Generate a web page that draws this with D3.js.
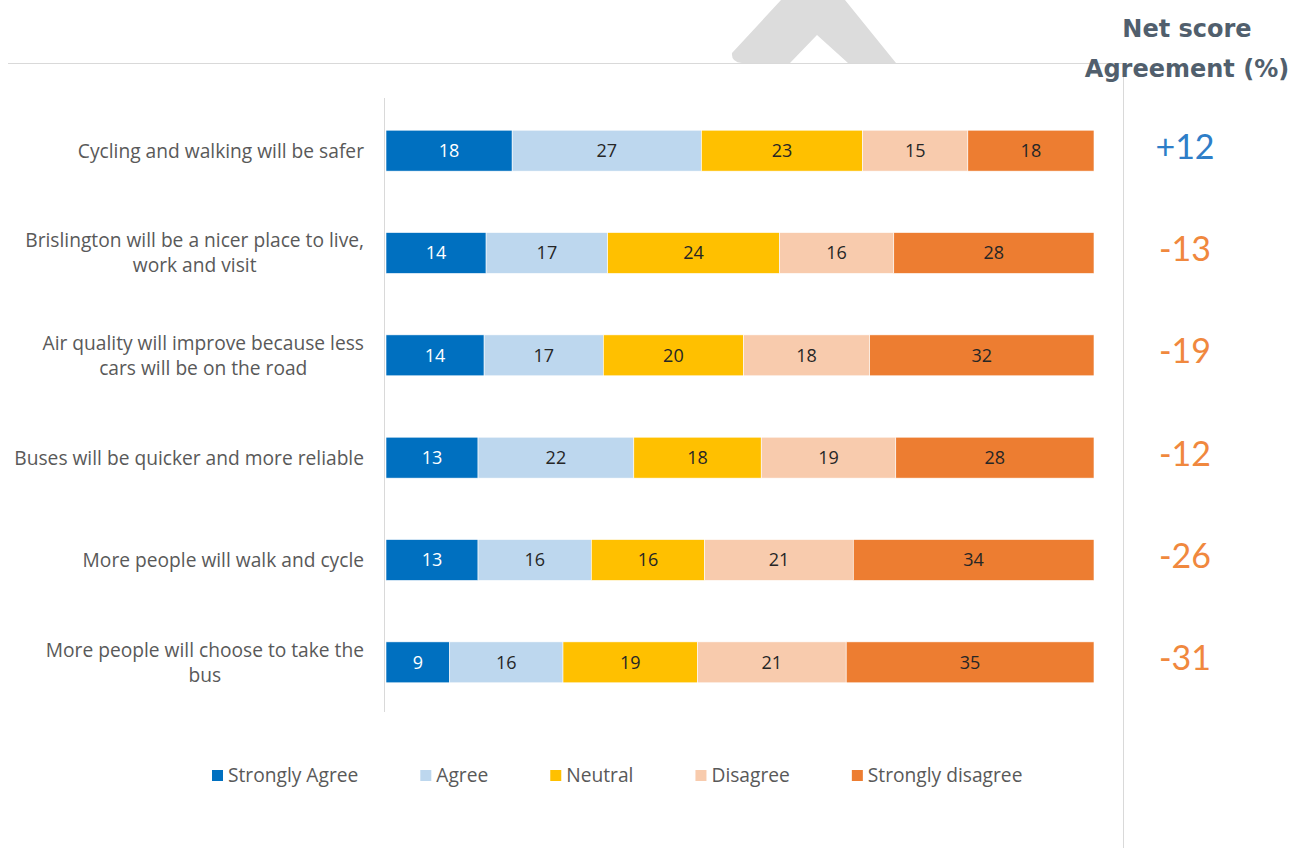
<!DOCTYPE html>
<html>
<head>
<meta charset="utf-8">
<script src="https://cdn.jsdelivr.net/npm/d3@7"></script>
<style>
  html, body { margin: 0; padding: 0; background: #fff; }
  svg { display: block; }
</style>
</head>
<body>
<svg id="chart" width="1297" height="848"></svg>
<script>
// Statements, in display order (lines split where the label wraps)
const statements = [
  ["Cycling and walking will be safer"],
  ["Brislington will be a nicer place to live,", "work and visit"],
  ["Air quality will improve because less", "cars will be on the road"],
  ["Buses will be quicker and more reliable"],
  ["More people will walk and cycle"],
  ["More people will choose to take the", "bus"]
];

// Response categories
const responses = ["Strongly Agree", "Agree", "Neutral", "Disagree", "Strongly disagree"];

// Percentages per response, one value per statement
const stronglyAgree    = [18, 14, 14, 13, 13, 9];
const agree            = [27, 17, 17, 22, 16, 16];
const neutral          = [23, 24, 20, 18, 16, 19];
const disagree         = [15, 16, 18, 19, 21, 21];
const stronglyDisagree = [18, 28, 32, 28, 34, 35];

// Net agreement score per statement
const netScores = [12, -13, -19, -12, -26, -31];

const colors = ["#0070c0", "#bdd7ee", "#ffc000", "#f8cbad", "#ed7d31"];
const labelColors = ["#ffffff", "#262626", "#262626", "#262626", "#262626"];

const seriesValues = [stronglyAgree, agree, neutral, disagree, stronglyDisagree];
const rows = statements.map((s, i) => {
  const r = { id: i };
  responses.forEach((k, j) => r[k] = seriesValues[j][i]);
  return r;
});

const svg = d3.select("#chart");
const font = "'Open Sans', 'Noto Sans', sans-serif";
const numFont = "Lato, sans-serif";

// Background mark above the divider line
svg.append("path")
  .attr("d", "M732,53 L781,0 L845,0 L896,63 L848,63 L817,35 L790,63 L742,63 Q731,62 732,53 Z")
  .attr("fill", "#dcdcdc");

// Top divider
svg.append("line")
  .attr("x1", 8).attr("x2", 1122).attr("y1", 63.5).attr("y2", 63.5)
  .attr("stroke", "#d9d9d9").attr("stroke-width", 1);

// Net score column divider
svg.append("line")
  .attr("x1", 1123.5).attr("x2", 1123.5).attr("y1", 75).attr("y2", 848)
  .attr("stroke", "#d9d9d9").attr("stroke-width", 1);

const x = d3.scaleLinear().domain([0, 1]).range([386, 1094]);
const y = d3.scaleBand().domain(rows.map(r => r.id)).range([99.5, 713.5])
  .paddingInner(0.6).paddingOuter(0.3);

const stack = d3.stack().keys(responses).offset(d3.stackOffsetExpand);
const layers = stack(rows);

// Category axis line
svg.append("line")
  .attr("x1", 384.5).attr("x2", 384.5).attr("y1", 98).attr("y2", 712)
  .attr("stroke", "#d9d9d9").attr("stroke-width", 1);

const layerG = svg.append("g").selectAll("g")
  .data(layers).join("g")
  .attr("fill", (d, i) => colors[i]);

layerG.selectAll("rect")
  .data(d => d)
  .join("rect")
  .attr("x", d => x(d[0]))
  .attr("y", d => y(d.data.id))
  .attr("width", d => x(d[1]) - x(d[0]))
  .attr("height", y.bandwidth())
  .attr("stroke", "#ffffff")
  .attr("stroke-width", 0.6);

// Value labels inside each segment
layers.forEach((layer, i) => {
  svg.append("g").selectAll("text")
    .data(layer)
    .join("text")
    .attr("x", d => (x(d[0]) + x(d[1])) / 2)
    .attr("y", d => y(d.data.id) + y.bandwidth() / 2)
    .attr("dy", "0.36em")
    .attr("text-anchor", "middle")
    .attr("font-family", font)
    .attr("font-size", 18)
    .attr("fill", labelColors[i])
    .text(d => d.data[layer.key]);
});

// Category labels (wrapped lines centred within the block, block right-aligned)
const labelRight = 364;
const lineGap = 25;
statements.forEach((lines, i) => {
  const cy = y(i) + y.bandwidth() / 2;
  const g = svg.append("g");
  const texts = lines.map((ln, k) => g.append("text")
    .attr("y", cy + (k - (lines.length - 1) / 2) * lineGap)
    .attr("dy", "0.36em")
    .attr("font-family", font)
    .attr("font-size", 19.2)
    .attr("fill", "#595959")
    .attr("text-anchor", "middle")
    .text(ln));
  const w = d3.max(texts, t => t.node().getComputedTextLength());
  texts.forEach(t => t.attr("x", labelRight - w / 2));
});

// Net score header
const header = svg.append("text")
  .attr("x", 1187)
  .attr("text-anchor", "middle")
  .attr("font-family", "'DejaVu Sans', Verdana, sans-serif")
  .attr("font-weight", "bold")
  .attr("font-size", 24)
  .attr("fill", "#515f6d");
header.append("tspan").attr("x", 1187).attr("y", 37).text("Net score");
header.append("tspan").attr("x", 1187).attr("y", 77).text("Agreement (%)");

// Net score values
svg.append("g").selectAll("text")
  .data(netScores)
  .join("text")
  .attr("x", 1185)
  .attr("y", (d, i) => y(i) + y.bandwidth() / 2 - 4)
  .attr("dy", "0.35em")
  .attr("text-anchor", "middle")
  .attr("font-family", numFont)
  .attr("font-size", 34)
  .attr("fill", d => d >= 0 ? "#2e7ec8" : "#f0883e")
  .text(d => (d > 0 ? "+" : "") + d);

// Legend
const legend = svg.append("g");
let lx = 212;
responses.forEach((r, i) => {
  const item = legend.append("g").attr("transform", `translate(${lx},0)`);
  item.append("rect")
    .attr("x", 0).attr("y", 770).attr("width", 11).attr("height", 11)
    .attr("fill", colors[i]);
  const t = item.append("text")
    .attr("x", 16).attr("y", 775.5).attr("dy", "0.36em")
    .attr("font-family", font)
    .attr("font-size", 19.2)
    .attr("fill", "#595959")
    .text(r);
  lx += 16 + t.node().getComputedTextLength() + 62;
});
</script>
</body>
</html>
